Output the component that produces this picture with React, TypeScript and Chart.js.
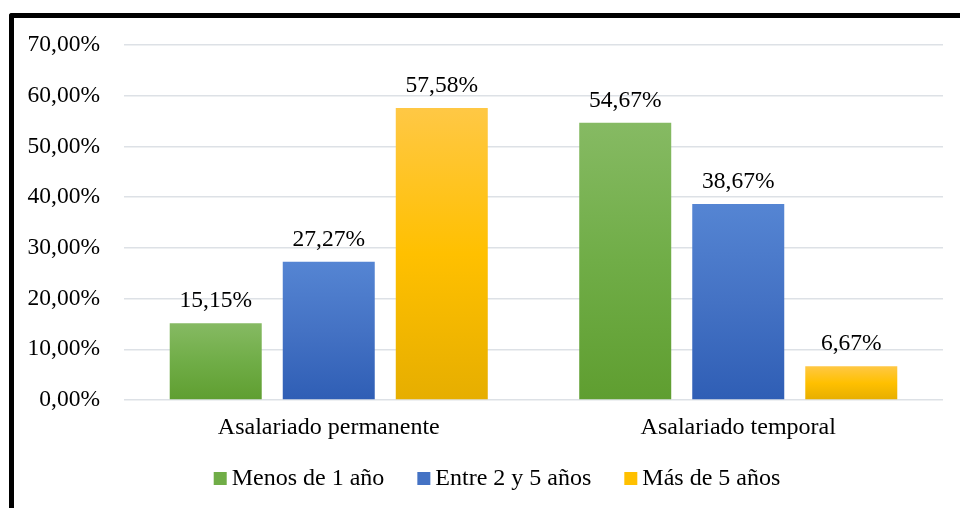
import React, { useEffect, useRef } from "react";
import { Chart, registerables } from "chart.js";

Chart.register(...registerables);

const categories = ["Asalariado permanente", "Asalariado temporal"];
const seriesNames = ["Menos de 1 año", "Entre 2 y 5 años", "Más de 5 años"];
const menos1 = [15.15, 54.67];
const entre2y5 = [27.27, 38.67];
const mas5 = [57.58, 6.67];
const yTicks = [0, 10, 20, 30, 40, 50, 60, 70];

const FONT = "'Liberation Serif', 'Times New Roman', serif";

const palettes = [
  { top: "#86BA63", mid: "#70AD47", bottom: "#5F9E30", solid: "#70AD47" },
  { top: "#5585D3", mid: "#4472C4", bottom: "#2F5EB5", solid: "#4472C4" },
  { top: "#FFC845", mid: "#FFC000", bottom: "#E6AE00", solid: "#FFC000" },
];

const fmt = (v: number) => v.toFixed(2).replace(".", ",") + "%";

function makeBg(idx: number) {
  return (ctx: any) => {
    const p = palettes[idx];
    if (ctx.type !== "data") return p.solid;
    const chart = ctx.chart;
    const y = chart.scales && chart.scales.y;
    if (!y || !chart.chartArea) return p.solid;
    const v = ctx.raw as number;
    const yTop = y.getPixelForValue(v);
    const yBot = y.getPixelForValue(0);
    if (!isFinite(yTop) || !isFinite(yBot) || yTop === yBot) return p.solid;
    const g = chart.ctx.createLinearGradient(0, yTop, 0, yBot);
    g.addColorStop(0, p.top);
    g.addColorStop(0.5, p.mid);
    g.addColorStop(1, p.bottom);
    return g;
  };
}

const valueLabels = {
  id: "valueLabels",
  afterDatasetsDraw(chart: any) {
    const ctx = chart.ctx;
    ctx.save();
    ctx.font = `23.5px ${FONT}`;
    ctx.fillStyle = "#000";
    ctx.textAlign = "center";
    ctx.textBaseline = "alphabetic";
    chart.data.datasets.forEach((ds: any, di: number) => {
      const meta = chart.getDatasetMeta(di);
      meta.data.forEach((el: any, i: number) => {
        ctx.fillText(fmt(ds.data[i]), el.x, el.y - 16);
      });
    });
    ctx.restore();
  },
};

// Legend drawn below the axis, using dataset labels and palette colours
const bottomLegend = {
  id: "bottomLegend",
  afterDraw(chart: any) {
    const ctx = chart.ctx;
    ctx.save();
    ctx.font = `24px ${FONT}`;
    ctx.textBaseline = "alphabetic";
    ctx.textAlign = "left";
    const box = 13;
    const gapBoxText = 5;
    const gapItems = 33;
    const labels: string[] = chart.data.datasets.map((d: any) => d.label);
    const widths = labels.map((t) => ctx.measureText(t).width);
    const total =
      widths.reduce((a, b) => a + b, 0) + labels.length * (box + gapBoxText) + (labels.length - 1) * gapItems;
    const center = 497;
    const baseline = 485;
    let x = center - total / 2;
    labels.forEach((t, i) => {
      ctx.fillStyle = palettes[i].solid;
      ctx.fillRect(x, baseline - box, box, box);
      x += box + gapBoxText;
      ctx.fillStyle = "#000";
      ctx.fillText(t, x, baseline);
      x += widths[i] + gapItems;
    });
    ctx.restore();
  },
};

export default function App() {
  const ref = useRef<HTMLCanvasElement>(null);
  useEffect(() => {
    if (!ref.current) return;
    const seriesData = [menos1, entre2y5, mas5];
    const chart = new Chart(ref.current, {
      type: "bar",
      data: {
        labels: categories,
        datasets: seriesNames.map((name, i) => ({
          label: name,
          data: seriesData[i],
          backgroundColor: makeBg(i),
          borderWidth: 0,
          categoryPercentage: 0.828,
          barPercentage: 0.814,
        })),
      },
      options: {
        responsive: false,
        animation: false,
        devicePixelRatio: 1,
        layout: { padding: { left: 0, right: 17, top: 45, bottom: 65 } },
        scales: {
          x: {
            grid: { display: false, drawTicks: false },
            border: { display: false },
            ticks: { color: "#000", font: { family: FONT, size: 24 }, padding: 13 },
            afterFit: (scale: any) => {
              scale.height = 43;
            },
          },
          y: {
            min: 0,
            max: 70,
            afterBuildTicks: (scale: any) => {
              scale.ticks = yTicks.map((v) => ({ value: v }));
            },
            afterFit: (scale: any) => {
              scale.width = 124;
            },
            grid: { color: "#DDE1E6", lineWidth: 1.5, drawTicks: false },
            border: { display: false },
            ticks: {
              color: "#000",
              font: { family: FONT, size: 23.5 },
              padding: 24,
              callback: (v: any) => fmt(Number(v)),
            },
          },
        },
        plugins: {
          legend: { display: false },
          tooltip: { enabled: false },
        },
      },
      plugins: [valueLabels, bottomLegend],
    });
    return () => chart.destroy();
  }, []);

  return (
    <div style={{ position: "fixed", left: 0, top: 0, width: 960, height: 508, background: "#fff", overflow: "hidden" }}>
      <div
        style={{
          position: "absolute",
          left: 9,
          top: 13,
          width: 980,
          height: 520,
          borderTop: "5px solid #000",
          borderLeft: "5px solid #000",
          borderTopLeftRadius: 3,
          boxSizing: "border-box",
        }}
      />
      <canvas ref={ref} width={960} height={508} style={{ position: "absolute", left: 0, top: 0 }} />
    </div>
  );
}
